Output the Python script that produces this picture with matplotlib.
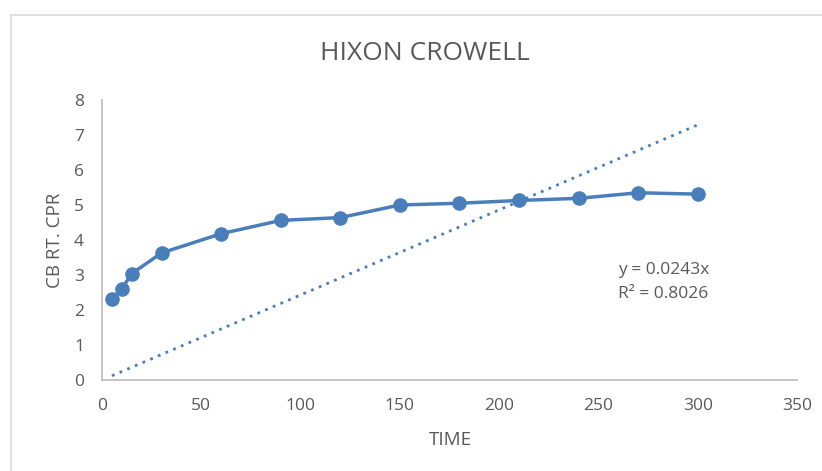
import numpy as np
import matplotlib.pyplot as plt
from matplotlib.lines import Line2D

# dissolution data - time (min) vs cube root term
time = [5, 10, 15, 30, 60, 90, 120, 150, 180, 210, 240, 270, 300]
cb_rt = [2.31, 2.61, 3.04, 3.63, 4.18, 4.56, 4.64, 5.00, 5.05, 5.13, 5.19, 5.35, 5.31]

# linear trend through origin
slope = 0.0243
r2 = 0.8026

x_ticks = [0, 50, 100, 150, 200, 250, 300, 350]
y_ticks = [0, 1, 2, 3, 4, 5, 6, 7, 8]

blue = '#4a7ebb'
grey_txt = '#595959'
plt.rcParams['font.family'] = ['Open Sans', 'DejaVu Sans']

W, H = 822, 471
fig = plt.figure(figsize=(W/100, H/100), dpi=100)
ax = fig.add_axes([102/W, 1-380/H, 695/W, 280/H])

# chart area frame
fig.add_artist(Line2D([11/W, 11/W], [0, 1-15/H], transform=fig.transFigure, color='#d9d9d9', lw=1.2))
fig.add_artist(Line2D([11/W, 1], [1-15/H, 1-15/H], transform=fig.transFigure, color='#d9d9d9', lw=1.2))

ax.plot(time, cb_rt, color=blue, lw=2.5, marker='o', ms=9.5, zorder=3)

tx = np.array([time[0], time[-1]])
ax.plot(tx, slope*tx, color=blue, lw=2.0, linestyle=(0, (1, 2.0)), zorder=2)

fig.text(618/W, 1-270/H, 'y = %.4fx' % slope, color=grey_txt, fontsize=12.5, va='center')
fig.text(618/W, 1-294/H, 'R² = %.4f' % r2, color=grey_txt, fontsize=12.5, va='center')

ax.set_xlim(0, 350)
ax.set_ylim(0, 8)
ax.set_xticks(x_ticks)
ax.set_yticks(y_ticks)
ax.tick_params(length=0, colors=grey_txt, labelsize=12.5)
ax.tick_params(axis='x', pad=13)
ax.tick_params(axis='y', pad=13)
for s in ['top', 'right']:
    ax.spines[s].set_visible(False)
for s in ['left', 'bottom']:
    ax.spines[s].set_color('#bfbfbf')
    ax.spines[s].set_linewidth(1.3)

fig.text(425/W, 1-53/H, 'HIXON CROWELL', ha='center', va='center', color=grey_txt, fontsize=19)
fig.text(450/W, 1-440/H, 'TIME', ha='center', va='center', color=grey_txt, fontsize=13.5)
fig.text(55/W, 1-240/H, 'CB RT. CPR', ha='center', va='center', rotation=90, color=grey_txt, fontsize=13.5)

fig.savefig('out.png', dpi=100)
